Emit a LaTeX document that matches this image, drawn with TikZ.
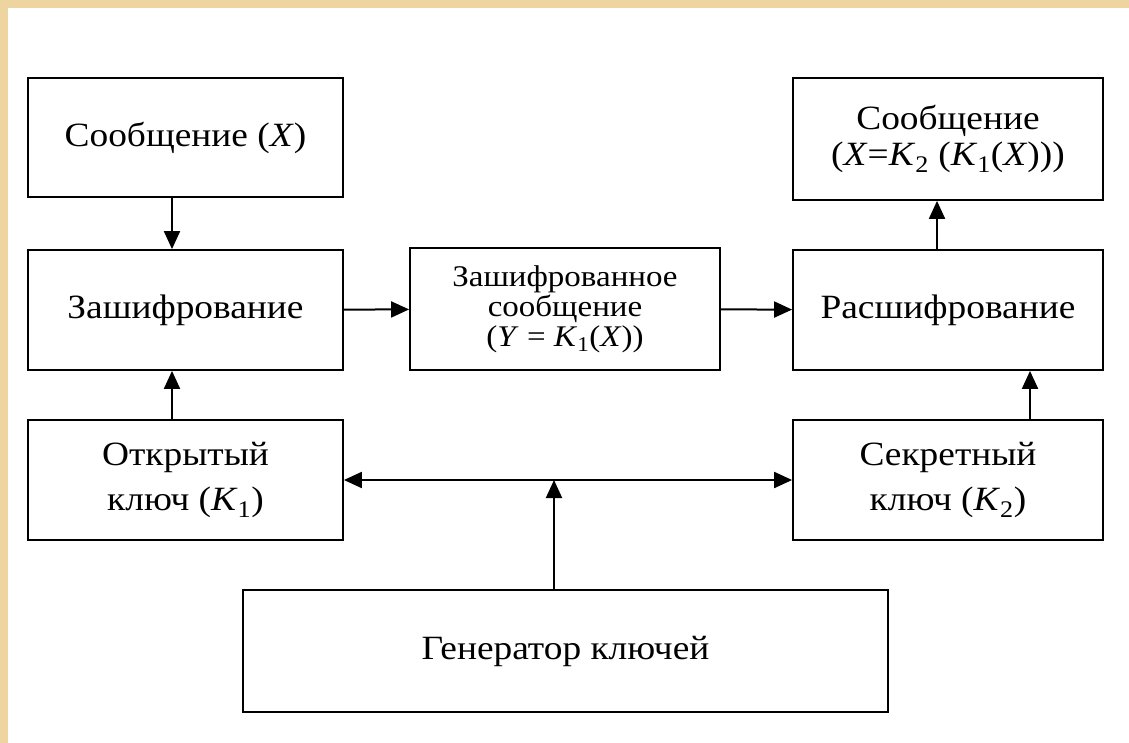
\documentclass[tikz,border=0pt]{standalone}
\usepackage{fontspec}
\setmainfont{Liberation Serif}[FakeStretch=1.1]
\usepackage{tikz}
\usetikzlibrary{arrows.meta,positioning,calc}
\usepackage{xcolor}
\definecolor{ramka}{RGB}{238,213,160}

\newcommand{\vr}[1]{\textit{#1}}
\newcommand{\ksub}[1]{\textit{K}\textsubscript{#1}}

\tikzset{
  blok/.style={draw, line width=1.8pt, align=center, inner sep=0pt,
    font=\fontsize{34}{38}\selectfont},
  strelka/.style={-{Triangle[length=18pt,width=16pt]}, line width=2pt},
}

\begin{document}
\begin{tikzpicture}[x=1pt, y=-1pt]
    % Background
    \fill[ramka] (0, 0) rectangle (1129, 743);
    \fill[white] (8, 8) rectangle (1129, 743);
    \useasboundingbox (0, 0) rectangle (1129, 743);

    % Left column
    \node[blok, minimum width=315pt, minimum height=119pt] (msgx) at (185.5, 137.5) {Сообщение (\vr{X})};
    \node[blok, minimum width=315pt, minimum height=120pt] (enc) at (185.5, 310) {Зашифрование};
    \node[blok, minimum width=315pt, minimum height=120pt, font=\fontsize{34}{45}\selectfont] (pub) at (185.5, 480) {Открытый\\ключ (\ksub{1})};

    % Middle
    \node[blok, minimum width=310pt, minimum height=122pt, font=\fontsize{30}{30}\selectfont] (cipher) at (565, 309)
        {Зашифрованное\\сообщение\\(\vr{Y} = \ksub{1}(\vr{X}))};

    % Right column
    \node[blok, minimum width=310pt, minimum height=122pt, font=\fontsize{34}{36}\selectfont] (msgout) at (948, 139) {Сообщение\\(\vr{X}=\ksub{2} (\ksub{1}(\vr{X})))};
    \node[blok, minimum width=310pt, minimum height=120pt] (dec) at (948, 310) {Расшифрование};
    \node[blok, minimum width=310pt, minimum height=120pt, font=\fontsize{34}{45}\selectfont] (sec) at (948, 480) {Секретный\\ключ (\ksub{2})};

    % Generator
    \node[blok, minimum width=645pt, minimum height=122pt] (gen) at (565.5, 651) {Генератор ключей};
    \coordinate (hub) at (554, 480);

    % Arrows
    \draw[strelka] ([xshift=-13.5pt]msgx.south) -- ([xshift=-13.5pt]enc.north);
    \draw[strelka] ([xshift=-13.5pt]pub.north) -- ([xshift=-13.5pt]enc.south);
    \draw[strelka] (enc) -- (cipher);
    \draw[strelka] (cipher) -- (dec);
    \draw[strelka] ([xshift=-11pt]dec.north) -- ([xshift=-11pt]msgout.south);
    \draw[strelka] ([xshift=82pt]sec.north) -- ([xshift=82pt]dec.south);
    \draw[strelka, {Triangle[length=18pt,width=16pt]}-{Triangle[length=18pt,width=16pt]}] (pub) -- (sec);
    \draw[strelka] (gen.north -| hub) -- (hub);
\end{tikzpicture}
\end{document}
